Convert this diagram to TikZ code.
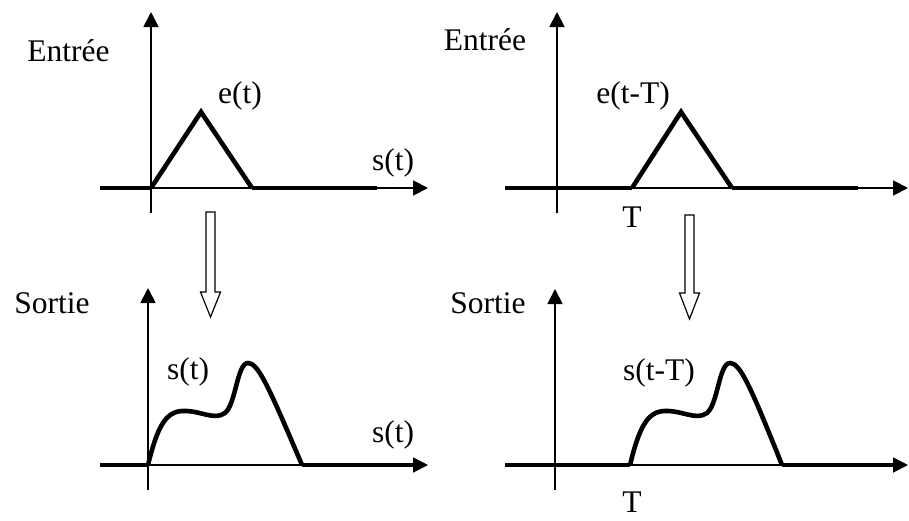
\documentclass[tikz,border=0pt]{standalone}
\usepackage{fontspec}
\setmainfont{Liberation Serif}
\usetikzlibrary{arrows.meta}
\begin{document}
\begin{tikzpicture}[
  x=1pt, y=-1pt,
  every node/.style={font=\fontsize{31.5}{38}\selectfont, inner sep=0pt},
  axis/.style={line width=1.8pt, -{Triangle[length=15pt,width=15pt]}},
  signal/.style={line width=4.6pt, line join=miter},
  flat/.style={line width=4.6pt},
  hollow/.style={draw, line width=1.2pt, fill=white}
]
\useasboundingbox (0,0) rectangle (909,520);
% entree, signal e(t)
\coordinate (ax1s) at (151,213);
\coordinate (ax1e) at (151,12);
\coordinate (bx1s) at (100,188);
\coordinate (bx1e) at (428,188);
\draw[axis] (ax1s) -- (ax1e);
\draw[axis] (bx1s) -- (bx1e);
\draw[flat] (bx1s) -- (151,188);
\draw[flat] (252,188) -- (377,188);
\draw[signal] (151,188) -- (201,112) -- (252,188);
\node (in1) at (68.5,51) {Entrée};
\node (e1) at (240,95.5) {e(t)};
\node (s1) at (393,163) {s(t)};
% entree retardee, signal e(t-T)
\coordinate (ax2s) at (557,213);
\coordinate (ax2e) at (557,12);
\coordinate (bx2s) at (505,188);
\coordinate (bx2e) at (908,188);
\draw[axis] (ax2s) -- (ax2e);
\draw[axis] (bx2s) -- (bx2e);
\draw[flat] (bx2s) -- (632,188);
\draw[flat] (732,188) -- (858,188);
\draw[signal] (632,188) -- (681,112) -- (732,188);
\node (in2) at (485,40) {Entrée};
\node (e2) at (633,95.5) {e(t-T)};
\node (T1) at (632,217) {T};
% fleches creuses
\draw[hollow] (206,212) -- (206,292) -- (200.5,292) -- (210.5,317)
  -- (220.5,292) -- (215,292) -- (215,212) -- cycle;
\draw[hollow] (685,215) -- (685,293) -- (679.5,293) -- (689.5,319)
  -- (699.5,293) -- (694,293) -- (694,215) -- cycle;
% sortie, signal s(t)
\coordinate (ax3s) at (148,490);
\coordinate (ax3e) at (148,288);
\coordinate (bx3s) at (100,465);
\coordinate (bx3e) at (428,465);
\draw[axis] (ax3s) -- (ax3e);
\draw[axis] (bx3s) -- (bx3e);
\draw[flat] (bx3s) -- (148,465);
\draw[flat] (302,465) -- (416,465);
\draw[signal] (148,465) .. controls (157,428) and (165,412) .. (182,411)
  .. controls (200,410) and (214,421) .. (225,413)
  .. controls (236,404) and (237,363) .. (248,363)
  .. controls (258,363) and (268,385) .. (302,465);
\node (out1) at (52,303) {Sortie};
\node (s2) at (188,372) {s(t)};
\node (s3) at (393,435) {s(t)};
% sortie retardee, signal s(t-T)
\coordinate (ax4s) at (555,490);
\coordinate (ax4e) at (555,289);
\coordinate (bx4s) at (505,465);
\coordinate (bx4e) at (908,465);
\draw[axis] (ax4s) -- (ax4e);
\draw[axis] (bx4s) -- (bx4e);
\draw[flat] (bx4s) -- (630,465);
\draw[flat] (782,465) -- (896,465);
\begin{scope}[xshift=482pt]
\draw[signal] (148,465) .. controls (157,428) and (165,412) .. (182,411)
  .. controls (200,410) and (214,421) .. (225,413)
  .. controls (236,404) and (237,363) .. (248,363)
  .. controls (258,363) and (268,385) .. (300,465);
\end{scope}
\node (out2) at (488,303) {Sortie};
\node (s4) at (659,373) {s(t-T)};
\node (T2) at (632,502) {T};
\end{tikzpicture}
\end{document}
